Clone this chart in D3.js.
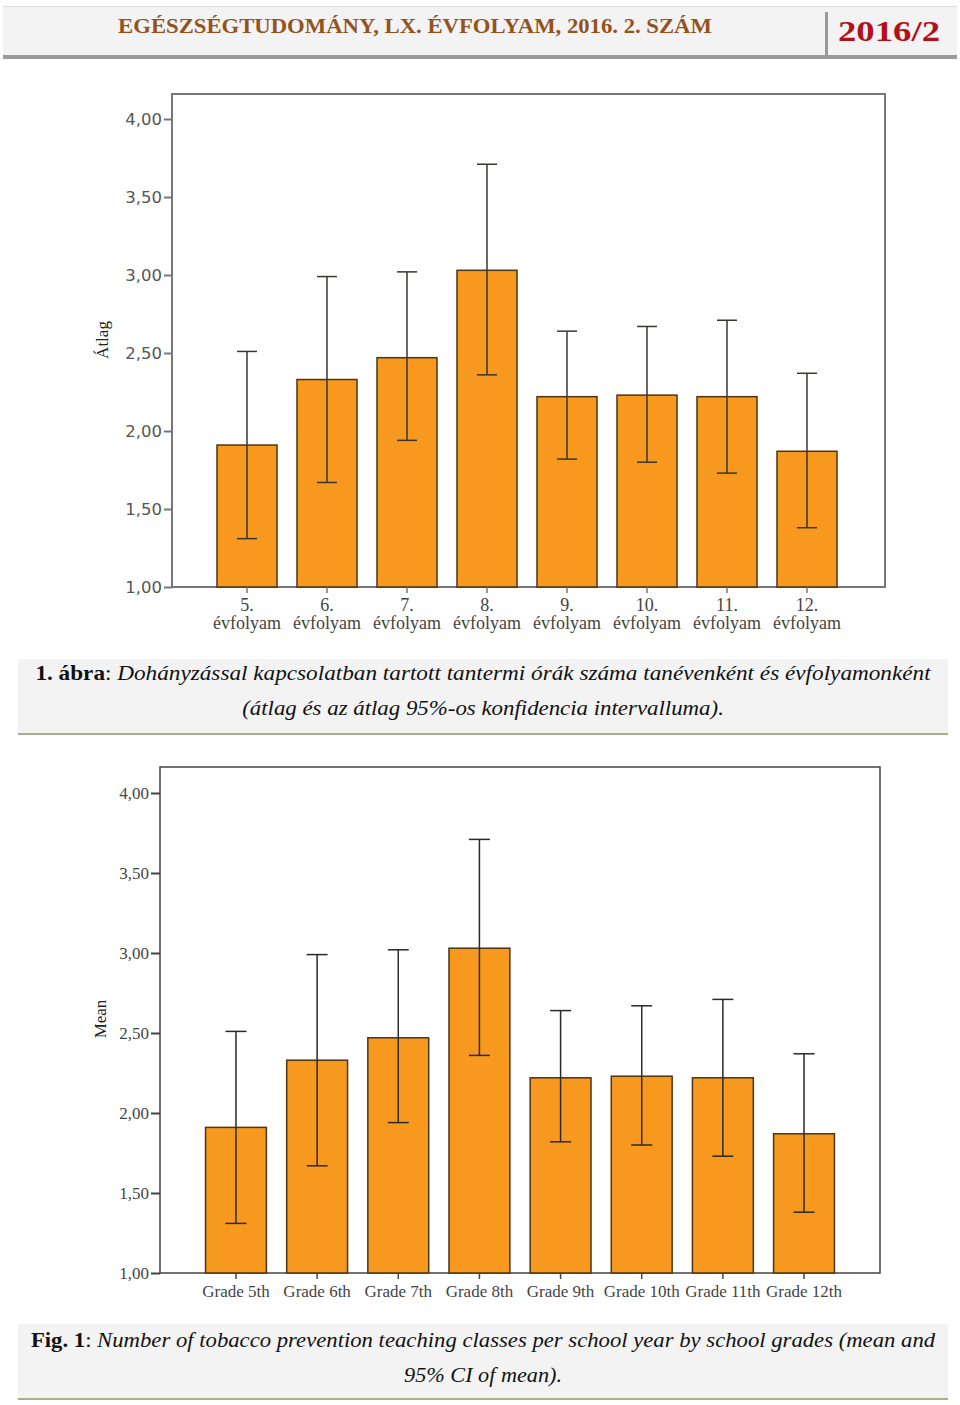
<!DOCTYPE html>
<html>
<head>
<meta charset="utf-8">
<script src="https://cdn.jsdelivr.net/npm/d3@7/dist/d3.min.js"></script>
<style>
  html, body { margin: 0; padding: 0; background: #fff; }
  svg { display: block; }
</style>
</head>
<body>
<svg id="chart" width="960" height="1405"></svg>
<script>
// ---- Data ----
const categoriesHu = ["5.", "6.", "7.", "8.", "9.", "10.", "11.", "12."];
const categoriesEn = ["Grade 5th", "Grade 6th", "Grade 7th", "Grade 8th", "Grade 9th", "Grade 10th", "Grade 11th", "Grade 12th"];
const meanValues = [1.91, 2.33, 2.47, 3.03, 2.22, 2.23, 2.22, 1.87];
const ciLower   = [1.31, 1.67, 1.94, 2.36, 1.82, 1.80, 1.73, 1.38];
const ciUpper   = [2.51, 2.99, 3.02, 3.71, 2.64, 2.67, 2.71, 2.37];
const yTickValues = [1.0, 1.5, 2.0, 2.5, 3.0, 3.5, 4.0];
const headerTitle = "EGÉSZSÉGTUDOMÁNY, LX. ÉVFOLYAM, 2016. 2. SZÁM";
const headerIssue = "2016/2";

const svg = d3.select("#chart");
const fmt = v => d3.format(".2f")(v).replace(".", ",");

// Helper: fit text to a width by horizontal scaling
function fitText(sel, cx, y, width) {
  const w = sel.node().getBBox().width;
  sel.attr("transform", `translate(${cx},${y}) scale(${width / w},1)`);
}

// ---- Header ----
const hdr = svg.append("g");
hdr.append("rect").attr("x", 3).attr("y", 6).attr("width", 954).attr("height", 51).attr("fill", "#f3f3f3");
hdr.append("line").attr("x1", 3).attr("x2", 957).attr("y1", 6.5).attr("y2", 6.5).attr("stroke", "#dcdcdc").attr("stroke-width", 1);
hdr.append("rect").attr("x", 3).attr("y", 55).attr("width", 954).attr("height", 4).attr("fill", "#9a9a9a");
hdr.append("rect").attr("x", 825).attr("y", 12).attr("width", 3).attr("height", 44).attr("fill", "#9a9a9a");
const ht = hdr.append("text").attr("x", 0).attr("y", 0).attr("text-anchor", "middle")
  .attr("font-family", "Liberation Serif").attr("font-weight", "bold").attr("font-size", 21)
  .attr("fill", "#94521d").text(headerTitle);
fitText(ht, 415, 33, 594);
const hi = hdr.append("text").attr("x", 0).attr("y", 0).attr("text-anchor", "middle")
  .attr("font-family", "Liberation Serif").attr("font-weight", "bold").attr("font-size", 29)
  .attr("fill", "#b0121b").text(headerIssue);
fitText(hi, 889, 41, 102);

// ---- Chart drawing function ----
function drawChart(cfg) {
  const g = svg.append("g");
  const y = d3.scaleLinear().domain([1, 4]).range([cfg.y1, cfg.y4]);
  const x = d3.scaleBand().domain(cfg.cats).range(cfg.xRange).paddingInner(0.25).paddingOuter(0.125);

  // frame
  g.append("rect").attr("x", cfg.left).attr("y", cfg.top)
    .attr("width", cfg.right - cfg.left).attr("height", cfg.y1 - cfg.top)
    .attr("fill", "none").attr("stroke", cfg.frameColor).attr("stroke-width", cfg.frameWidth);

  // bars
  g.selectAll("rect.bar").data(cfg.cats).enter().append("rect").attr("class", "bar")
    .attr("x", d => x(d)).attr("width", x.bandwidth())
    .attr("y", (d, i) => y(meanValues[i]))
    .attr("height", (d, i) => y(1) - y(meanValues[i]))
    .attr("fill", "#f7991f").attr("stroke", "#4d3412").attr("stroke-width", 1.5);

  // error bars
  const cw = cfg.capW / 2;
  const eb = g.selectAll("g.err").data(cfg.cats).enter().append("g").attr("class", "err")
    .attr("stroke", cfg.errColor).attr("stroke-width", 1.5);
  eb.append("line").attr("x1", d => x(d) + x.bandwidth() / 2).attr("x2", d => x(d) + x.bandwidth() / 2)
    .attr("y1", (d, i) => y(ciLower[i])).attr("y2", (d, i) => y(ciUpper[i]));
  eb.append("line").attr("x1", d => x(d) + x.bandwidth() / 2 - cw).attr("x2", d => x(d) + x.bandwidth() / 2 + cw)
    .attr("y1", (d, i) => y(ciUpper[i])).attr("y2", (d, i) => y(ciUpper[i]));
  eb.append("line").attr("x1", d => x(d) + x.bandwidth() / 2 - cw).attr("x2", d => x(d) + x.bandwidth() / 2 + cw)
    .attr("y1", (d, i) => y(ciLower[i])).attr("y2", (d, i) => y(ciLower[i]));

  // y axis
  const ya = d3.axisLeft(y).tickValues(yTickValues).tickFormat(fmt).tickSize(cfg.tickLen).tickPadding(2);
  const yg = g.append("g").attr("transform", `translate(${cfg.left},0)`).call(ya);
  yg.select(".domain").remove();
  yg.selectAll(".tick line").attr("stroke", cfg.frameColor).attr("stroke-width", 2);
  yg.selectAll(".tick text").attr("font-family", cfg.yFont).attr("font-size", cfg.yFontSize)
    .attr("fill", cfg.yTextColor);

  // x axis
  const xa = d3.axisBottom(x).tickSize(6).tickPadding(4).tickFormat("");
  const xg = g.append("g").attr("transform", `translate(0,${cfg.y1})`).call(xa);
  xg.select(".domain").remove();
  xg.selectAll(".tick line").attr("stroke", cfg.frameColor).attr("stroke-width", 1.5);

  cfg.xLabels(g, x);

  // y title
  g.append("text").attr("transform", `translate(${cfg.titleX},${cfg.titleY}) rotate(-90)`)
    .attr("text-anchor", "middle").attr("font-family", "Liberation Serif").attr("font-size", 17)
    .attr("fill", "#222").text(cfg.yTitle);
}

// Top chart (Hungarian)
drawChart({
  cats: categoriesHu, left: 172, right: 885, top: 94, y1: 587, y4: 119,
  xRange: [207, 847], frameColor: "#777", frameWidth: 2, errColor: "#3a3530", capW: 20,
  tickLen: 8, yFont: "DejaVu Sans", yFontSize: 16.5, yTextColor: "#555",
  titleX: 108, titleY: 340, yTitle: "Átlag",
  xLabels: (g, x) => {
    const t = g.selectAll("text.xl").data(categoriesHu).enter().append("text").attr("class", "xl")
      .attr("text-anchor", "middle").attr("font-family", "Liberation Serif").attr("font-size", 18)
      .attr("fill", "#444");
    t.append("tspan").attr("x", d => x(d) + x.bandwidth() / 2).attr("y", 611).text(d => d);
    t.append("tspan").attr("x", d => x(d) + x.bandwidth() / 2).attr("y", 629).text("évfolyam");
  }
});

// Bottom chart (English)
drawChart({
  cats: categoriesEn, left: 160, right: 880, top: 767, y1: 1273, y4: 793,
  xRange: [195.4, 844.6], frameColor: "#444", frameWidth: 1.5, errColor: "#2a2a2a", capW: 21,
  tickLen: 9, yFont: "Liberation Serif", yFontSize: 17, yTextColor: "#444",
  titleX: 106, titleY: 1019, yTitle: "Mean",
  xLabels: (g, x) => {
    g.selectAll("text.xl").data(categoriesEn).enter().append("text").attr("class", "xl")
      .attr("text-anchor", "middle").attr("font-family", "Liberation Serif").attr("font-size", 17)
      .attr("fill", "#444")
      .attr("x", d => x(d) + x.bandwidth() / 2).attr("y", 1297).text(d => d);
  }
});

// ---- Captions ----
function caption(boxTop, boxBottom, lines) {
  const g = svg.append("g");
  g.append("rect").attr("x", 18).attr("y", boxTop).attr("width", 930).attr("height", boxBottom - boxTop).attr("fill", "#f3f3f3");
  g.append("rect").attr("x", 18).attr("y", boxBottom).attr("width", 930).attr("height", 2).attr("fill", "#a7b08a");
  lines.forEach(l => {
    const t = g.append("text").attr("text-anchor", "middle").attr("font-family", "Liberation Serif")
      .attr("font-size", 21).attr("fill", "#111");
    l.parts.forEach(p => {
      t.append("tspan").attr("font-weight", p.b ? "bold" : "normal")
        .attr("font-style", p.i ? "italic" : "normal").text(p.t);
    });
    fitText(t, l.cx, l.y, l.w);
  });
}

caption(659, 733, [
  { y: 680, cx: 483, w: 897, parts: [{ t: "1. ábra", b: true }, { t: ": " }, { t: "Dohányzással kapcsolatban tartott tantermi órák száma tanévenként és évfolyamonként", i: true }] },
  { y: 715, cx: 483, w: 482, parts: [{ t: "(átlag és az átlag 95%-os konfidencia intervalluma).", i: true }] }
]);

caption(1324, 1398, [
  { y: 1347, cx: 483, w: 905, parts: [{ t: "Fig. 1", b: true }, { t: ": " }, { t: "Number of tobacco prevention teaching classes per school year by school grades (mean and", i: true }] },
  { y: 1382, cx: 483, w: 158, parts: [{ t: "95% CI of mean).", i: true }] }
]);
</script>
</body>
</html>
